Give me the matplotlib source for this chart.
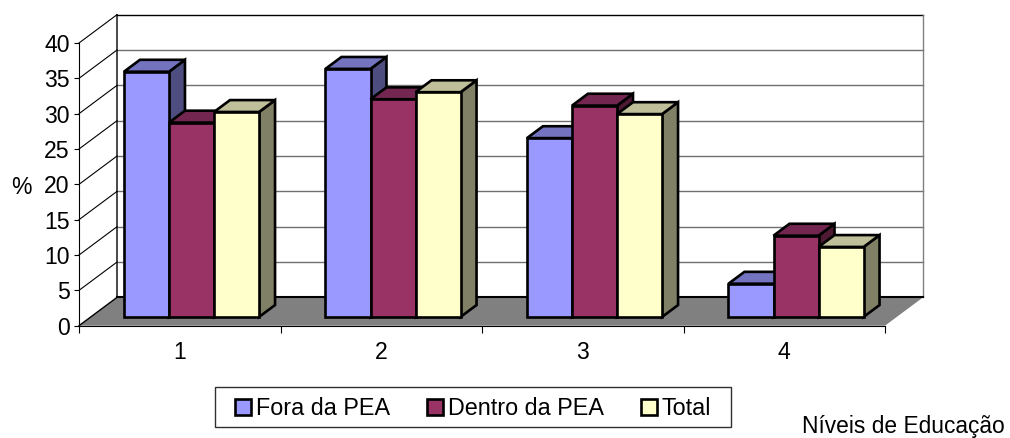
import matplotlib
matplotlib.use("Agg")
import matplotlib.pyplot as plt
from matplotlib.patches import Patch, Polygon, Rectangle

plt.rcParams['font.family'] = ['Liberation Sans', 'DejaVu Sans']

categories = ['1', '2', '3', '4']
series_names = ['Fora da PEA', 'Dentro da PEA', 'Total']
fora_pea = [34.7, 35.1, 25.3, 4.7]
dentro_pea = [27.5, 30.8, 29.9, 11.5]
total = [29.0, 31.8, 28.7, 9.9]
y_ticks = [0, 5, 10, 15, 20, 25, 30, 35, 40]

front_colors = ['#9999FF', '#993366', '#FFFFCC']
top_colors = ['#7373BF', '#732650', '#BFBF99']
side_colors = ['#4D4D80', '#4D1933', '#808066']

W, H = 1010, 438
LEFT, RIGHT, BOTTOM, TOP = 79, 885, 325.7, 43  # plot front plane, in pixels
DEPTH_X = 38 / ((RIGHT - LEFT) / 4)  # wall depth in category units
DEPTH_Y = 28.3 / ((BOTTOM - TOP) / 40)  # wall depth in value units
BAR_W = 0.2235
BAR_NEAR, BAR_FAR = 0.31, 0.73  # where bars sit on the floor, 0 front 1 back


def pr(x, y, d):
  """Oblique projection of a point at depth d onto the front plane"""
  return (x + d * DEPTH_X, y + d * DEPTH_Y)


fig = plt.figure(figsize=(W / 100, H / 100), dpi=100)
ax = fig.add_axes([LEFT / W, 1 - BOTTOM / H, (RIGHT - LEFT) / W, (BOTTOM - TOP) / H])
ax.set_xlim(0, len(categories))
ax.set_ylim(0, 40)

# floor
ax.add_patch(Polygon([pr(0, 0, 0), pr(4, 0, 0), pr(4, 0, 1), pr(0, 0, 1)],
                     facecolor='#808080', edgecolor='none', clip_on=False, zorder=1))

# walls and gridlines
for v in y_ticks[1:]:
  is_top = v == 40
  ax.plot(*zip(pr(0, v, 1), pr(4, v, 1)), color='black' if is_top else '#707070',
          lw=1.0, clip_on=False, zorder=1)
  ax.plot(*zip(pr(0, v, 0), pr(0, v, 1)), color='black', lw=0.8, clip_on=False, zorder=1)
ax.plot(*zip(pr(0, 0, 0), pr(0, 0, 1), pr(0, 40, 1)), color='black', lw=1.0, clip_on=False, zorder=1)
ax.plot(*zip(pr(4, 0, 1), pr(4, 40, 1)), color='#808080', lw=1.0, clip_on=False, zorder=1)
ax.plot(*zip(pr(0, 0, 1), pr(4, 0, 1)), color='black', lw=1.5, clip_on=False, zorder=1.5)

# bars, painted left to right so later ones cover the sides of earlier ones
z = 2
for c in range(len(categories)):
  for s, values in enumerate([fora_pea, dentro_pea, total]):
    x0 = c + 0.5 - 1.5 * BAR_W + s * BAR_W
    x1 = x0 + BAR_W
    v = values[c]
    faces = [
      (side_colors[s], [pr(x1, 0, BAR_NEAR), pr(x1, 0, BAR_FAR), pr(x1, v, BAR_FAR), pr(x1, v, BAR_NEAR)]),
      (top_colors[s], [pr(x0, v, BAR_NEAR), pr(x1, v, BAR_NEAR), pr(x1, v, BAR_FAR), pr(x0, v, BAR_FAR)]),
      (front_colors[s], [pr(x0, 0, BAR_NEAR), pr(x1, 0, BAR_NEAR), pr(x1, v, BAR_NEAR), pr(x0, v, BAR_NEAR)]),
    ]
    for color, pts in faces:
      ax.add_patch(Polygon(pts, facecolor=color, edgecolor='black', lw=1.9,
                           joinstyle='miter', clip_on=False, zorder=z))
      z += 1

# axes
for side in ['top', 'right']:
  ax.spines[side].set_visible(False)
for side in ['left', 'bottom']:
  ax.spines[side].set_linewidth(0.8)
ax.patch.set_visible(False)
ax.set_yticks(y_ticks)
ax.set_xticks(range(len(categories) + 1))
ax.set_xticklabels([])
ax.set_xticks([c + 0.5 for c in range(len(categories))], labels=categories, minor=True)
ax.tick_params(axis='y', labelsize=16.6, length=3.6, width=0.8, pad=3)
ax.tick_params(axis='x', which='major', length=5, width=0.8)
ax.tick_params(axis='x', which='minor', length=0, labelsize=16.6, pad=11)
ax.set_ylabel('%', rotation=0, fontsize=16.6, ha='center', va='center')
ax.yaxis.set_label_coords((21 - LEFT) / (RIGHT - LEFT), (BOTTOM - 187) / (BOTTOM - TOP))

# legend
fig.add_artist(Rectangle((215 / W, 1 - 427 / H), (731 - 215) / W, 40 / H, transform=fig.transFigure,
                         facecolor='white', edgecolor='#303030', lw=1.0))
handles = [Patch(facecolor=col, edgecolor='black', lw=1.9) for col in front_colors]
leg = fig.legend(handles, series_names, ncol=3, loc='center left',
                 bbox_to_anchor=(235 / W, 1 - 408.5 / H), frameon=False, fontsize=16.8,
                 handlelength=0.68, handleheight=0.68, handletextpad=0.2, columnspacing=1.6,
                 borderpad=0, borderaxespad=0)

fig.text(802 / W, 1 - 426.5 / H, 'Níveis de Educação', fontsize=16.4, ha='left', va='center')

fig.savefig('out.png', dpi=100)
